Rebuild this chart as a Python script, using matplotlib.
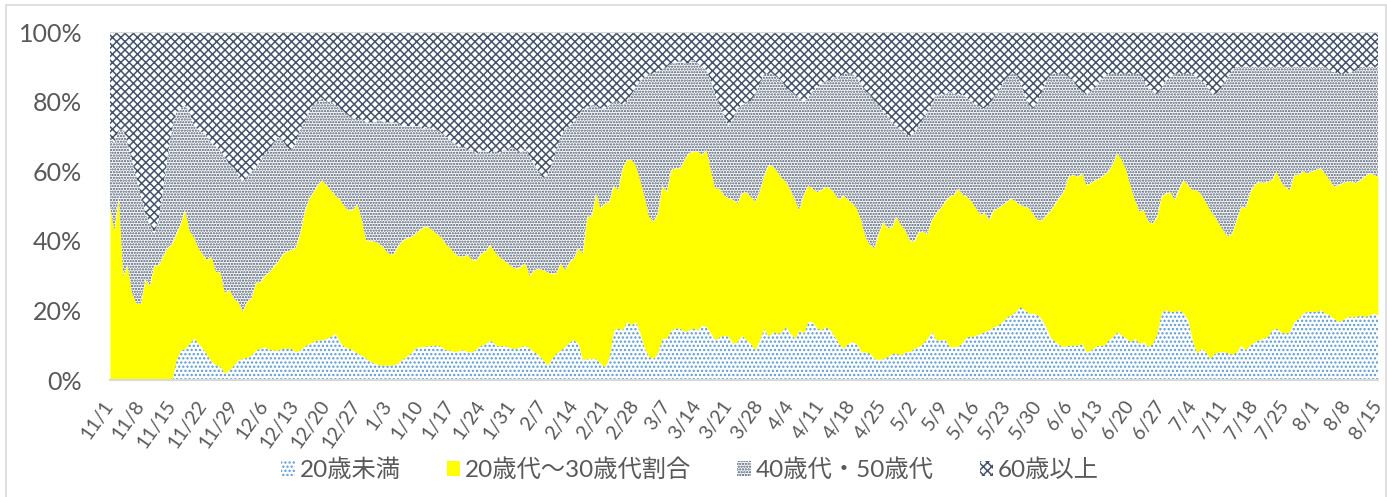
import matplotlib
matplotlib.use('Agg')
import matplotlib.pyplot as plt
import numpy as np
import pandas as pd
from matplotlib.patches import Patch, Rectangle

# ---------------- data (daily, 2020-11-01 .. 2021-08-15) ----------------
dates = pd.date_range('2020-11-01', '2021-08-15', freq='D')

# cumulative share (%) of cases: under 20
under20_pct = [
    0, 0, 0, 0, 0, 0, 0, 0, 0, 0, 0, 0, 0, 0, 0,
    5.8, 8.6, 9.0, 10.5, 12.0, 10.5, 9.0, 7.2, 5.3, 4.3,
    3.8, 1.9, 2.9, 4.3, 5.8, 6.2, 6.5, 7.2, 8.6, 9.1,
    9.6, 8.8, 8.6, 8.6, 9.1, 9.1, 9.1, 8.1, 8.6, 9.6,
    10.5, 11.0, 11.5, 11.5, 12.0, 12.5, 13.4, 11.0, 9.6, 9.1,
    8.6, 7.7, 7.2, 6.2, 5.3, 4.8, 4.3, 4.3, 4.3, 4.3,
    4.8, 5.8, 6.7, 7.7, 9.1, 9.6, 9.6, 9.8, 10.0, 10.0,
    9.6, 8.6, 8.6, 8.1, 8.6, 8.6, 8.1, 8.1, 9.1, 10.0,
    10.5, 11.5, 10.5, 9.6, 10.0, 9.6, 9.1, 9.1, 9.6, 10.0,
    9.1, 8.1, 7.2, 5.8, 4.3, 6.2, 7.7, 8.6, 9.6, 11.0,
    11.5, 10.5, 5.8, 6.2, 6.2, 6.2, 4.8, 3.8, 6.7, 14.4,
    14.9, 14.4, 16.8, 15.8, 16.8, 13.4, 9.1, 6.7, 6.2, 8.1,
    12.0, 12.0, 14.4, 14.9, 14.9, 13.9, 14.4, 14.9, 14.4, 15.8,
    15.3, 13.4, 11.5, 12.5, 12.9, 12.5, 10.5, 11.0, 12.9, 11.5,
    10.5, 8.6, 11.5, 14.9, 12.5, 13.9, 13.4, 13.9, 15.3, 13.4,
    12.0, 14.4, 13.4, 16.8, 16.8, 14.9, 14.4, 15.3, 14.4, 12.5,
    10.5, 9.1, 10.5, 11.0, 10.5, 8.1, 8.1, 7.7, 6.2, 5.9,
    6.2, 6.7, 7.7, 7.7, 7.2, 8.1, 8.2, 9.1, 9.6, 10.5,
    12.0, 13.9, 11.5, 11.5, 11.7, 9.6, 9.6, 9.6, 11.0, 12.5,
    12.5, 12.9, 13.4, 13.9, 14.4, 15.3, 15.8, 16.8, 18.2, 18.7,
    19.7, 21.1, 20.1, 19.2, 19.2, 18.7, 17.3, 14.9, 12.0, 11.0,
    10.0, 9.6, 10.0, 10.0, 10.0, 10.5, 8.1, 8.6, 9.6, 10.0,
    10.0, 11.5, 12.5, 13.9, 12.9, 12.0, 11.0, 12.0, 10.5, 11.0,
    9.6, 10.5, 13.4, 19.7, 20.1, 19.7, 19.7, 20.1, 19.2, 17.3,
    11.5, 7.7, 9.1, 8.1, 6.2, 7.7, 8.1, 8.1, 7.9, 7.4,
    8.1, 10.0, 8.6, 10.0, 11.0, 11.5, 12.0, 12.5, 14.4, 14.9,
    13.9, 13.4, 13.9, 16.8, 17.7, 19.2, 19.7, 19.7, 19.7, 20.1,
    19.2, 18.7, 17.7, 16.8, 17.3, 18.2, 18.2, 18.2, 18.7, 18.2,
    18.7, 19.2, 18.7,
]

# cumulative share (%) of cases: under 40 (under20 + 20s-30s)
under40_pct = [
    49.9, 43, 53, 30, 33, 25, 22, 22, 29, 27,
    33, 33, 35.5, 38, 39, 42, 45, 49, 43, 41,
    38, 36, 34.5, 35.5, 31, 31, 25, 26, 23.5, 22.5,
    19.7, 22.5, 23.5, 28, 28, 30, 31, 32.6, 34, 36,
    37, 37.4, 38, 42, 48, 52, 54, 56, 57.5, 56,
    54.6, 53, 52, 50, 48.7, 49, 50.6, 46, 40, 40,
    39.8, 39, 38, 36.4, 36, 38, 39.8, 40.7, 41, 42,
    43, 44, 44, 43, 42, 41, 39, 38, 36.4, 35.5,
    35.5, 36, 34.5, 34.5, 36.4, 37, 38.8, 37, 35.5, 34.5,
    33.6, 32.6, 32, 32.6, 33.6, 30, 31.6, 32, 31.6, 31,
    30.5, 30.7, 33.6, 31.6, 34, 35, 38, 36.4, 47, 47,
    53.7, 49.4, 50.8, 51.3, 56, 54.6, 60.9, 63.3, 63.3, 61.8,
    57.5, 52.7, 47, 45.5, 48, 56, 54, 60.4, 60.9, 60.9,
    63.3, 65.2, 65.7, 65.7, 64.7, 66.2, 60.4, 55, 55, 53,
    52.3, 51.8, 50.8, 53.7, 54, 52.7, 51.3, 54, 58.5, 61.8,
    61.4, 60, 58, 57, 54.6, 51.8, 48.9, 53.2, 56, 55,
    54, 54.6, 55.6, 55, 53.7, 51.8, 53.2, 51.8, 50.8, 49.4,
    46, 41.2, 38.8, 37.9, 42.2, 45.5, 43.6, 44, 47, 44.6,
    43, 40, 39.8, 42.5, 42.7, 42, 46, 48, 49.4, 51.3,
    52.7, 53.2, 55, 53.2, 52.7, 51.3, 49.4, 47.5, 48, 46,
    48.9, 49.4, 50.3, 51.3, 52.3, 51.3, 50.3, 49.9, 49.4, 47.5,
    46, 46, 47.5, 48.9, 50.8, 52.7, 54.6, 58.5, 59, 58.5,
    59.4, 56, 56.6, 57.5, 58, 59, 60, 62.3, 65.2, 63.3,
    60.4, 55.6, 51.8, 48.4, 48.9, 45.5, 45, 47, 52.7, 53.7,
    54, 51.8, 55, 57.5, 56, 54.6, 54.6, 53.2, 51.3, 48.9,
    47, 45, 43, 41.2, 42.2, 46, 49.9, 49.4, 53.7, 56,
    57, 56.6, 57, 57.5, 60, 57, 55.6, 54.6, 59, 59,
    60, 59.4, 60, 60.4, 60.9, 59.4, 57.5, 55.6, 56, 56.6,
    57, 57, 56.6, 57.5, 58.5, 59.4, 59, 58.5,
]

# cumulative share (%) of cases: under 60 (everything below the 60+ band)
under60_pct = [
    70, 68, 72, 72, 68, 63, 58, 53, 48, 45,
    42, 46, 55, 64, 72, 77, 78, 79, 77, 73,
    72, 71, 70, 68, 67, 66, 64, 62, 61, 59,
    57, 58, 60, 61, 63, 65, 66, 68, 70, 69,
    67, 66, 68, 72, 74, 77, 79, 80, 81, 80,
    80, 79, 78, 77, 76, 75, 75, 75, 74, 74,
    74, 75, 74, 74, 74, 74, 73, 73, 73, 73,
    73, 72, 73, 72, 72, 71, 70, 69, 68, 67,
    67, 66, 66, 65, 66, 66, 65, 66, 65, 66,
    66, 67, 66, 65, 67, 64, 62, 60, 58, 59,
    62, 66, 70, 72, 73, 74, 76, 78, 78, 79,
    79, 78, 78, 79, 80, 80, 79, 80, 82, 84,
    86, 87, 88, 88, 89, 89, 90, 91, 91, 92,
    91, 91, 92, 91, 90, 89, 86, 82, 79, 76,
    73, 75, 78, 79, 80, 80, 82, 85, 88, 88,
    88, 87, 86, 84, 83, 82, 81, 80, 81, 83,
    84, 85, 86, 86, 87, 87, 88, 88, 88, 87,
    85, 83, 82, 80, 79, 77, 76, 74, 73, 72,
    71, 70, 71, 73, 75, 77, 79, 82, 82, 82,
    83, 82, 82, 82, 81, 80, 79, 78.5, 78, 79,
    81, 83, 85, 87, 88, 88, 86, 82, 79, 78,
    80, 83, 86, 88, 88, 88, 88, 87, 86, 84,
    83, 82, 83, 84, 86, 87, 88, 88, 88, 88,
    88, 88, 88, 88, 86, 84, 83, 82, 84, 86,
    87, 88, 88, 88, 88, 88, 87, 86, 85, 83,
    82, 83, 85, 87, 89, 90, 90, 90, 90, 90,
    90, 90, 90, 90, 90, 90, 90, 90, 90, 90,
    90, 90, 90, 90, 90, 90, 89, 88.5, 88, 88,
    88, 88.5, 89, 90, 90, 90, 90, 90,
]

series_labels = ['20歳未満', '20歳代～30歳代割合', '40歳代・50歳代', '60歳以上']
y_ticks = [0, 20, 40, 60, 80, 100]

assert len(under20_pct) == len(dates) == len(under40_pct) == len(under60_pct)

# ---------------- styling ----------------
plt.rcParams['font.family'] = ['Lato', 'Noto Sans CJK JP', 'DejaVu Sans']
plt.rcParams['hatch.linewidth'] = 1.1
TXT = '#595959'
BLUE = '#5B9BD5'
SLATE = '#44546A'
YELLOW = '#FFFF00'

W, H = 1387, 497
fig = plt.figure(figsize=(W / 100, H / 100), dpi=100)
fig.patch.set_facecolor('white')
fig.patches.append(Rectangle((6 / W, -0.05), (1386 - 6) / W, 1.05 - 5 / H,
                             transform=fig.transFigure, fill=False,
                             edgecolor='#D9D9D9', linewidth=1.2))

ax = fig.add_axes([110 / W, 1 - 380 / H, (1378 - 110) / W, (380 - 32) / H])
x = np.arange(len(dates))
u20 = np.array(under20_pct, dtype=float)
u40 = np.array(under40_pct, dtype=float)
u60 = np.array(under60_pct, dtype=float)
top = np.full_like(u20, 100.0)

ax.fill_between(x, 0, u20, facecolor='white', edgecolor=BLUE, hatch='....',
                linewidth=0, label=series_labels[0])
ax.fill_between(x, u20, u40, facecolor=YELLOW, edgecolor=YELLOW,
                linewidth=0, label=series_labels[1])
ax.fill_between(x, u40, u60, facecolor='white', edgecolor=SLATE, hatch='......',
                linewidth=0, label=series_labels[2])
ax.fill_between(x, u60, top, facecolor='white', edgecolor=SLATE, hatch='xxxx',
                linewidth=0, label=series_labels[3])

ax.set_xlim(0, len(dates) - 1)
ax.set_ylim(0, 100)
ax.set_yticks(y_ticks)
ax.set_yticklabels([f'{v}%' for v in y_ticks], fontsize=18, color=TXT)
tick_pos = x[::7]
ax.set_xticks(tick_pos)
ax.set_xticklabels([f'{d.month}/{d.day}' for d in dates[::7]], rotation=55,
                   ha='right', va='center', rotation_mode='anchor',
                   fontsize=14, color=TXT)
ax.tick_params(axis='both', length=0)
ax.tick_params(axis='y', pad=20)
ax.tick_params(axis='x', pad=16)
for s in ['left', 'right', 'top']:
    ax.spines[s].set_visible(False)
ax.spines['bottom'].set_color('#D9D9D9')
ax.spines['bottom'].set_linewidth(1.5)
ax.axhline(100, color='#D9D9D9', linewidth=1.0, zorder=5)

handles = [
    Patch(facecolor='white', edgecolor=BLUE, hatch='....', linewidth=0),
    Patch(facecolor=YELLOW, edgecolor=YELLOW, linewidth=0),
    Patch(facecolor='white', edgecolor=SLATE, hatch='......', linewidth=0),
    Patch(facecolor='white', edgecolor=SLATE, hatch='xxxx', linewidth=0),
]
leg = fig.legend(handles, series_labels, loc='center',
                 bbox_to_anchor=(690 / W, 1 - 470 / H), ncol=4, frameon=False,
                 fontsize=17.5, handlelength=0.55, handleheight=0.55,
                 handletextpad=0.2, columnspacing=1.9, labelcolor=TXT)

fig.savefig('out.png', dpi=100, facecolor='white')
